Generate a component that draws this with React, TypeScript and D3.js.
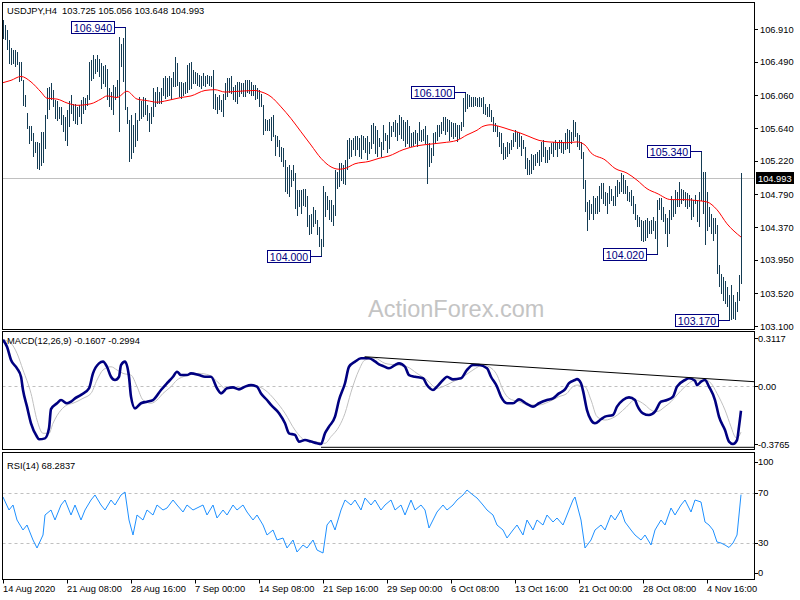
import React from 'react';
import * as d3 from 'd3';

// ---------- DATA ----------
const symbolTitle = 'USDJPY,H4';
const lastOHLC = [103.725, 105.056, 103.648, 104.993];

const highs = [
  107.03, 106.96, 106.90, 106.77, 106.66, 106.64, 106.64, 106.62, 106.49, 106.49,
  106.25, 106.06, 105.83, 105.66, 105.66, 105.57, 105.46, 105.46, 105.44, 105.59,
  105.59, 105.81, 106.15, 106.17, 106.21, 106.13, 106.00, 105.98, 105.91, 105.91,
  105.81, 105.78, 105.87, 105.98, 106.06, 105.95, 105.95, 105.91, 105.93, 106.00,
  106.04, 106.02, 106.06, 106.49, 106.51, 106.57, 106.53, 106.57, 106.53, 106.47,
  106.43, 106.45, 106.40, 106.15, 106.10, 106.19, 106.17, 106.25, 106.81, 106.72,
  106.79, 106.94, 105.91, 105.74, 105.81, 105.68, 105.83, 105.74, 106.04, 105.98,
  106.04, 106.02, 105.93, 105.83, 105.91, 106.15, 106.10, 106.17, 106.10, 106.15,
  106.28, 106.30, 106.28, 106.30, 106.28, 106.36, 106.55, 106.47, 106.23, 106.23,
  106.21, 106.23, 106.45, 106.47, 106.49, 106.38, 106.36, 106.34, 106.32, 106.30,
  106.34, 106.30, 106.32, 106.30, 106.30, 106.38, 106.08, 106.04, 106.06, 106.00,
  106.08, 106.21, 106.28, 106.28, 106.30, 106.17, 106.19, 106.23, 106.23, 106.21,
  106.21, 106.25, 106.25, 106.25, 106.23, 106.19, 106.19, 106.15, 106.13, 106.08,
  105.93, 105.76, 105.74, 105.76, 105.78, 105.81, 105.55, 105.53, 105.48, 105.40,
  105.38, 105.23, 105.14, 105.16, 105.10, 105.16, 105.06, 104.84, 104.84, 104.84,
  104.86, 104.86, 104.76, 104.52, 104.54, 104.63, 104.59, 104.46, 104.37, 104.22,
  104.89, 104.82, 104.76, 104.71, 104.71, 104.65, 105.10, 105.08, 105.19, 105.19,
  105.16, 105.23, 105.48, 105.51, 105.48, 105.51, 105.53, 105.53, 105.51, 105.55,
  105.53, 105.51, 105.53, 105.46, 105.68, 105.70, 105.66, 105.61, 105.51, 105.46,
  105.68, 105.57, 105.55, 105.72, 105.66, 105.72, 105.74, 105.70, 105.81, 105.78,
  105.74, 105.72, 105.74, 105.66, 105.57, 105.59, 105.61, 105.57, 105.72, 105.61,
  105.63, 105.66, 105.55, 105.44, 105.38, 105.57, 105.59, 105.68, 105.68, 105.72,
  105.78, 105.78, 105.76, 105.74, 105.72, 105.70, 105.70, 105.68, 105.68, 105.72,
  106.02, 106.10, 106.08, 106.06, 106.04, 106.04, 106.04, 106.02, 106.04, 106.02,
  106.04, 105.95, 105.91, 105.95, 105.87, 105.78, 105.70, 105.66, 105.59, 105.57,
  105.44, 105.40, 105.46, 105.44, 105.48, 105.57, 105.61, 105.59, 105.57, 105.53,
  105.48, 105.40, 105.25, 105.23, 105.31, 105.29, 105.31, 105.33, 105.36, 105.46,
  105.48, 105.40, 105.36, 105.40, 105.44, 105.46, 105.48, 105.46, 105.48, 105.48,
  105.46, 105.57, 105.63, 105.61, 105.59, 105.74, 105.72, 105.57, 105.55, 105.46,
  105.33, 104.97, 104.69, 104.71, 104.67, 104.76, 104.74, 104.76, 104.89, 104.93,
  104.93, 104.82, 104.80, 104.89, 104.86, 104.76, 104.89, 104.97, 104.95, 105.06,
  105.04, 104.97, 104.89, 104.82, 104.84, 104.76, 104.67, 104.52, 104.50, 104.46,
  104.44, 104.46, 104.48, 104.44, 104.46, 104.50, 104.44, 104.71, 104.74, 104.74,
  104.63, 104.54, 104.48, 104.59, 104.76, 104.71, 104.84, 104.82, 104.95, 104.86,
  104.84, 104.82, 104.80, 104.78, 104.74, 104.71, 104.78, 104.71, 104.82, 105.34,
  105.08, 105.08, 104.82, 104.63, 104.54, 104.48, 104.48, 104.39, 103.88, 103.77,
  103.73, 103.67, 103.60, 103.50, 103.62, 103.50, 103.41, 103.54, 103.75, 105.056,
];

const lows = [
  106.79, 106.77, 106.64, 106.47, 106.45, 106.47, 106.43, 106.45, 106.23, 106.25,
  105.93, 105.91, 105.63, 105.44, 105.48, 105.27, 105.33, 105.12, 105.10, 105.16,
  105.19, 105.38, 105.76, 105.87, 106.00, 105.91, 105.76, 105.74, 105.76, 105.68,
  105.59, 105.48, 105.42, 105.66, 105.83, 105.74, 105.70, 105.68, 105.78, 105.70,
  105.83, 105.87, 105.93, 106.00, 106.25, 106.28, 106.34, 106.36, 106.30, 106.15,
  106.21, 106.17, 106.00, 105.91, 105.87, 105.81, 106.00, 106.04, 105.59, 106.43,
  106.23, 105.87, 105.70, 105.21, 105.25, 105.33, 105.40, 105.48, 105.74, 105.76,
  105.78, 105.81, 105.74, 105.59, 105.70, 105.78, 105.91, 105.95, 105.95, 105.95,
  106.06, 106.02, 106.04, 106.06, 106.00, 106.17, 106.17, 106.19, 106.04, 106.02,
  106.06, 106.08, 106.10, 106.13, 106.15, 106.21, 106.21, 106.19, 106.17, 106.15,
  106.19, 106.17, 106.21, 106.19, 106.17, 105.89, 105.87, 105.83, 105.87, 105.85,
  105.78, 106.00, 106.04, 106.10, 106.08, 106.00, 105.98, 105.95, 106.04, 106.08,
  106.04, 106.04, 106.10, 106.08, 106.06, 106.06, 106.00, 106.02, 105.91, 105.91,
  105.55, 105.61, 105.61, 105.61, 105.48, 105.53, 105.29, 105.40, 105.27, 105.21,
  105.14, 104.82, 104.80, 104.76, 104.89, 104.97, 104.61, 104.52, 104.63, 104.54,
  104.65, 104.63, 104.37, 104.27, 104.29, 104.37, 104.42, 104.27, 104.12, 104.00,
  104.12, 104.50, 104.59, 104.46, 104.44, 104.39, 104.52, 104.86, 104.89, 104.97,
  104.93, 104.91, 105.10, 105.25, 105.27, 105.36, 105.29, 105.36, 105.27, 105.25,
  105.36, 105.33, 105.23, 105.31, 105.38, 105.44, 105.31, 105.27, 105.40, 105.27,
  105.36, 105.48, 105.33, 105.38, 105.53, 105.59, 105.53, 105.48, 105.55, 105.51,
  105.48, 105.40, 105.44, 105.40, 105.40, 105.42, 105.44, 105.40, 105.48, 105.46,
  105.48, 105.44, 104.93, 105.14, 105.19, 105.29, 105.44, 105.48, 105.53, 105.57,
  105.61, 105.55, 105.59, 105.48, 105.53, 105.51, 105.53, 105.46, 105.51, 105.61,
  105.66, 105.85, 105.89, 105.91, 105.91, 105.91, 105.93, 105.91, 105.91, 105.91,
  105.83, 105.81, 105.78, 105.78, 105.72, 105.59, 105.59, 105.53, 105.40, 105.31,
  105.23, 105.25, 105.27, 105.31, 105.36, 105.40, 105.46, 105.38, 105.40, 105.29,
  105.38, 105.12, 105.04, 105.04, 105.06, 105.10, 105.16, 105.19, 105.16, 105.21,
  105.27, 105.19, 105.19, 105.23, 105.31, 105.27, 105.36, 105.27, 105.38, 105.33,
  105.31, 105.36, 105.38, 105.33, 105.44, 105.48, 105.53, 105.40, 105.36, 105.25,
  104.86, 104.57, 104.33, 104.46, 104.54, 104.46, 104.54, 104.54, 104.57, 104.74,
  104.67, 104.65, 104.54, 104.67, 104.71, 104.65, 104.65, 104.76, 104.80, 104.82,
  104.80, 104.80, 104.71, 104.69, 104.65, 104.54, 104.46, 104.37, 104.37, 104.20,
  104.18, 104.20, 104.24, 104.29, 104.29, 104.33, 104.22, 104.02, 104.59, 104.46,
  104.44, 104.29, 104.12, 104.29, 104.46, 104.50, 104.54, 104.63, 104.63, 104.67,
  104.71, 104.63, 104.61, 104.63, 104.46, 104.50, 104.67, 104.44, 104.37, 104.71,
  104.54, 104.14, 104.33, 104.37, 104.29, 104.20, 104.29, 103.77, 103.60, 103.52,
  103.43, 103.39, 103.35, 103.17, 103.18, 103.20, 103.18, 103.28, 103.43, 103.648,
];

// moving average (red) read at bar positions
const maPoints: [number, number][] = [
  [0, 106.22], [4, 106.25], [9, 106.30], [14, 106.23], [19, 106.10], [22, 106.02], [27, 106.01], [32, 105.96],
  [37, 105.93], [44, 105.95], [49, 106.01], [52, 106.05], [57, 106.03], [62, 106.11], [67, 106.01], [72, 105.99],
  [77, 105.97], [82, 105.99], [89, 106.03], [94, 106.05], [101, 106.12], [106, 106.13], [111, 106.10], [118, 106.11],
  [126, 106.12], [128, 106.11], [134, 106.04], [139, 105.91], [144, 105.76], [149, 105.59], [154, 105.42], [159, 105.25],
  [164, 105.14], [168, 105.11], [171, 105.12], [176, 105.18], [183, 105.21], [188, 105.25], [193, 105.28], [200, 105.36],
  [207, 105.41], [213, 105.43], [220, 105.45], [227, 105.48], [232, 105.55], [237, 105.61], [240, 105.66], [244, 105.68],
  [248, 105.66], [253, 105.62], [258, 105.58], [263, 105.53], [268, 105.48], [273, 105.46], [282, 105.45], [287, 105.46],
  [291, 105.42], [294, 105.32], [301, 105.23], [306, 105.12], [312, 105.06], [317, 104.97], [322, 104.86], [327, 104.80],
  [334, 104.72], [341, 104.72], [346, 104.71], [352, 104.69], [357, 104.59], [362, 104.41], [369, 104.24],
];

const priceTicks = [106.91, 106.49, 106.06, 105.64, 105.22, 104.79, 104.37, 103.95, 103.52, 103.10];

const swingBars = [61, 231, 349, 159, 327, 363];
const swingPrices = [106.94, 106.10, 105.34, 104.00, 104.02, 103.17];

const xTickBars = [0, 32, 64, 96, 128, 160, 192, 224, 256, 288, 320, 352];
const xTickLabels = ['14 Aug 2020', '21 Aug 08:00', '28 Aug 16:00', '7 Sep 00:00', '14 Sep 08:00', '21 Sep 16:00',
  '29 Sep 00:00', '6 Oct 08:00', '13 Oct 16:00', '21 Oct 00:00', '28 Oct 08:00', '4 Nov 16:00'];

const macdMain: [number, number][] = [
  [0, 0.30], [2, 0.255], [4, 0.169], [7, 0.115], [9, 0.06], [10, -0.026], [12, -0.134], [14, -0.242], [17, -0.329],
  [18, -0.346], [21, -0.34], [23, -0.275], [24, -0.15], [27, -0.112], [29, -0.091], [32, -0.112], [34, -0.102],
  [36, -0.08], [39, -0.058], [43, -0.015], [45, 0.082], [48, 0.147], [50, 0.158], [52, 0.125], [54, 0.06], [56, 0.039],
  [58, 0.06], [59, 0.136], [61, 0.158], [63, 0.06], [64, -0.069], [66, -0.145], [69, -0.112], [72, -0.102], [75, -0.091],
  [79, -0.026], [82, 0.018], [85, 0.06], [87, 0.093], [89, 0.071], [92, 0.071], [94, 0.082], [98, 0.071], [101, 0.06],
  [104, 0.06], [107, -0.015], [109, -0.048], [112, -0.015], [115, -0.009], [118, -0.022], [121, -0.004], [124, 0.006],
  [127, -0.004], [129, -0.048], [132, -0.091], [134, -0.123], [138, -0.177], [141, -0.242], [143, -0.307], [146, -0.318],
  [148, -0.361], [151, -0.351], [154, -0.361], [157, -0.372], [159, -0.3765], [161, -0.307], [163, -0.264], [166, -0.199],
  [168, -0.091], [171, 0.018], [173, 0.125], [176, 0.158], [179, 0.18], [183, 0.18], [186, 0.16], [188, 0.14],
  [190, 0.13], [193, 0.115], [196, 0.136], [198, 0.147], [201, 0.125], [203, 0.071], [206, 0.06], [210, 0.05],
  [212, 0.006], [215, -0.026], [217, -0.004], [220, 0.039], [222, 0.06], [225, 0.043], [229, 0.05], [232, 0.104],
  [235, 0.136], [238, 0.136], [242, 0.115], [244, 0.06], [247, -0.004], [249, -0.069], [252, -0.112], [255, -0.112],
  [258, -0.087], [262, -0.117], [265, -0.134], [268, -0.112], [272, -0.091], [275, -0.08], [278, -0.048], [281, -0.022],
  [283, 0.018], [286, 0.039], [287, 0.045], [289, 0.018], [290, -0.03], [292, -0.156], [294, -0.221], [296, -0.242],
  [299, -0.216], [301, -0.199], [305, -0.188], [307, -0.134], [310, -0.091], [313, -0.074], [316, -0.091], [317, -0.123],
  [320, -0.177], [323, -0.188], [326, -0.166], [329, -0.102], [332, -0.091], [335, -0.069], [337, -0.004], [341, 0.039],
  [343, 0.05], [346, 0.034], [347, 0.006], [349, 0.028], [351, 0.039], [353, -0.004], [356, -0.091], [358, -0.199],
  [361, -0.286], [363, -0.361], [365, -0.3765], [367, -0.351], [368, -0.264], [369, -0.1607],
];

const macdSignal: [number, number][] = [
  [0, 0.30], [4, 0.277], [7, 0.212], [10, 0.104], [14, -0.048], [17, -0.221], [20, -0.307], [23, -0.307], [25, -0.242],
  [29, -0.156], [32, -0.123], [35, -0.112], [40, -0.08], [44, -0.048], [47, 0.039], [50, 0.104], [54, 0.125], [57, 0.104],
  [60, 0.082], [64, 0.071], [67, -0.004], [70, -0.091], [74, -0.112], [77, -0.091], [80, -0.048], [84, -0.004], [87, 0.039],
  [90, 0.06], [94, 0.075], [98, 0.082], [103, 0.071], [108, 0.018], [111, -0.015], [116, -0.015], [121, -0.004], [126, 0],
  [131, -0.026], [136, -0.091], [141, -0.177], [146, -0.286], [151, -0.351], [156, -0.361], [161, -0.372], [164, -0.329],
  [168, -0.264], [171, -0.177], [174, -0.04], [178, 0.104], [181, 0.169], [186, 0.18], [191, 0.147], [197, 0.136],
  [202, 0.125], [207, 0.082], [212, 0.039], [217, -0.015], [220, -0.004], [225, 0.028], [230, 0.06], [235, 0.104],
  [240, 0.136], [243, 0.125], [247, 0.071], [250, -0.026], [253, -0.08], [258, -0.102], [263, -0.123], [268, -0.123],
  [273, -0.102], [278, -0.069], [282, -0.048], [284, -0.015], [287, 0.006], [291, -0.004], [294, -0.091], [297, -0.199],
  [301, -0.221], [306, -0.199], [311, -0.145], [316, -0.091], [321, -0.123], [324, -0.156], [327, -0.166], [331, -0.134],
  [334, -0.102], [337, -0.058], [341, -0.004], [344, 0.028], [347, 0.039], [351, 0.039], [354, 0.018], [357, -0.048],
  [361, -0.156], [364, -0.264], [366, -0.33], [367, -0.338], [369, -0.2994],
];

const macdTicks = [0.3117, 0, -0.3765];
const macdTickLabels = ['0.3117', '0.00', '-0.3765'];
const macdTrendA: [number, number][] = [[180.8, 0.19], [375.5, 0.028]];
const macdTrendB: [number, number][] = [[159, -0.398], [375.5, -0.398]];

const rsiPoints: [number, number][] = [
  [0, 66.4], [3, 56], [5, 60], [7, 48], [10, 40], [12, 44], [15, 32], [17, 25.6], [20, 36], [21, 52], [24, 56], [26, 48],
  [29, 60], [31, 64], [34, 52], [36, 60], [39, 48], [41, 56], [44, 64], [46, 68], [49, 60], [51, 56], [54, 64], [56, 60],
  [59, 68], [61, 70.4], [63, 48], [65, 36], [67, 52], [70, 48], [72, 56], [75, 52], [77, 60], [80, 56], [82, 57.6],
  [85, 64], [87, 60], [90, 54.4], [92, 60], [95, 56], [97, 57.6], [100, 60], [102, 52], [105, 60], [107, 49.6], [110, 56],
  [112, 52], [115, 60], [117, 56], [120, 60], [122, 54.4], [125, 48], [127, 52], [130, 44], [132, 36], [135, 40],
  [137, 32], [140, 33.6], [142, 25.6], [145, 32], [147, 22.4], [150, 28], [152, 25.6], [155, 32], [157, 24], [160, 21.6],
  [162, 44], [164, 48], [166, 40], [169, 56], [171, 64], [174, 60], [176, 64], [179, 56], [181, 65.6], [184, 60],
  [186, 64], [189, 56], [191, 60], [194, 64], [196, 56], [199, 60], [201, 52], [204, 64], [206, 56], [209, 60], [211, 56],
  [213, 41.6], [215, 48], [217, 54.4], [220, 60], [222, 56], [225, 60], [227, 64], [230, 68], [232, 72], [235, 68],
  [237, 65.6], [240, 60], [242, 56], [245, 52], [247, 44], [250, 40], [252, 33.6], [255, 40], [257, 44], [260, 36],
  [262, 48], [265, 40], [267, 48], [270, 44], [272, 52], [275, 46.4], [277, 49.6], [280, 44], [282, 52], [285, 64],
  [286, 66.4], [289, 48], [291, 25.6], [294, 32], [296, 40], [299, 44], [301, 40], [304, 52], [306, 48], [309, 56],
  [311, 46.4], [314, 40], [316, 36], [319, 32], [321, 36], [324, 28], [326, 40], [329, 48], [331, 44], [334, 57.6],
  [336, 52], [339, 60], [341, 64], [344, 54.4], [346, 64], [349, 62.4], [351, 46.4], [353, 44], [355, 40], [357, 30.4],
  [359, 29.6], [361, 28], [363, 26], [365, 29.6], [367, 36], [368, 52], [369, 68.2837],
];
const rsiTicks = [100, 70, 30, 0];

// ---------- LAYOUT ----------
const FONT = '"Liberation Sans", Arial, sans-serif';
const LEFT = 2.5, RIGHT = 754.5;
const MAIN_TOP = 2.5, MAIN_BOT = 329.5;
const MACD_TOP = 331.5, MACD_BOT = 449.5;
const RSI_TOP = 452.5, RSI_BOT = 579.5;

export default function App() {
  const n = highs.length;
  const x = d3.scaleLinear().domain([0, n - 1]).range([3, 741]);
  const yP = d3.scaleLinear().domain([103.1, 106.91]).range([325.9, 28.9]);
  const yM = d3.scaleLinear().domain([-0.3765, 0.3117]).range([444, 338]);
  const yR = d3.scaleLinear().domain([0, 100]).range([580, 455]);
  const px = (i: number) => Math.round(x(i)) + 0.5;

  const maLine = d3.line<[number, number]>().x(d => x(d[0])).y(d => yP(d[1])).curve(d3.curveMonotoneX);
  const macdLine = d3.line<[number, number]>().x(d => x(d[0])).y(d => yM(d[1])).curve(d3.curveMonotoneX);
  const trendLine = d3.line<[number, number]>().x(d => x(d[0])).y(d => yM(d[1]));
  const rsiLine = d3.line<[number, number]>().x(d => x(d[0])).y(d => yR(d[1]));

  const close = lastOHLC[3];
  const yClose = Math.round(yP(close)) + 0.5;
  const header = `${symbolTitle}  ${lastOHLC.map(v => v.toFixed(3)).join(' ')}`;
  const macdHeader = `MACD(12,26,9) ${macdMain[macdMain.length - 1][1].toFixed(4)} ${macdSignal[macdSignal.length - 1][1].toFixed(4)}`;
  const rsiHeader = `RSI(14) ${rsiPoints[rsiPoints.length - 1][1].toFixed(4)}`;

  const rsiLabelY = (v: number) => Math.max(RSI_TOP + 9, Math.min(RSI_BOT - 7, yR(v)));

  return (
    <svg width={800} height={600} style={{ position: 'absolute', left: 0, top: 0, background: '#fff' }}
      fontFamily={FONT}>
      <defs>
        <clipPath id="cMain"><rect x={LEFT} y={MAIN_TOP} width={RIGHT - LEFT} height={MAIN_BOT - MAIN_TOP} /></clipPath>
        <clipPath id="cMacd"><rect x={LEFT} y={MACD_TOP} width={RIGHT - LEFT} height={MACD_BOT - MACD_TOP} /></clipPath>
        <clipPath id="cRsi"><rect x={LEFT} y={RSI_TOP} width={RIGHT - LEFT} height={RSI_BOT - RSI_TOP} /></clipPath>
      </defs>
      <rect x={0} y={0} width={800} height={600} fill="#fff" />

      {/* ---- main panel ---- */}
      <g clipPath="url(#cMain)">
        <line x1={LEFT} x2={RIGHT} y1={yClose} y2={yClose} stroke="#c0c0c0" />
        <text x={368} y={317} fontSize={23.5} fill="#c4c4c4">ActionForex.com</text>
        <g stroke="#143c54" strokeWidth={1} shapeRendering="crispEdges">
          {highs.map((h, i) => (
            <line key={i} x1={px(i)} x2={px(i)} y1={yP(h)} y2={yP(lows[i]) + 0.5} />
          ))}
        </g>
        <path d={maLine(maPoints) || ''} fill="none" stroke="#ff0000" strokeWidth={1} />
        {swingBars.map((b, k) => {
          const p = swingPrices[k];
          const yy = Math.round(yP(p)) + 0.5;
          const bx = Math.round(x(b)) - 10.5;
          const w = 43;
          return (
            <g key={k}>
              <line x1={bx} x2={px(b)} y1={yy} y2={yy} stroke="#000080" shapeRendering="crispEdges" />
              <rect x={bx - w} y={yy - 6} width={w} height={12} fill="#fff" stroke="#000080" shapeRendering="crispEdges" />
              <text x={bx - w / 2} y={yy + 4} fontSize={10.6} fill="#000080" textAnchor="middle">{p.toFixed(3)}</text>
            </g>
          );
        })}
        <text x={7} y={14} fontSize={9.3} fill="#000" style={{ whiteSpace: 'pre' }}>{header}</text>
      </g>

      {/* ---- MACD panel ---- */}
      <g clipPath="url(#cMacd)">
        <line x1={LEFT} x2={RIGHT} y1={Math.round(yM(0)) + 0.5} y2={Math.round(yM(0)) + 0.5} stroke="#c0c0c0" strokeDasharray="3,3" />
        <path d={macdLine(macdSignal) || ''} fill="none" stroke="#c0c0c0" strokeWidth={1} />
        <path d={macdLine(macdMain) || ''} fill="none" stroke="#000080" strokeWidth={2.6} strokeLinejoin="round" />
        <path d={trendLine(macdTrendA) || ''} fill="none" stroke="#000" strokeWidth={1} />
        <path d={trendLine(macdTrendB) || ''} fill="none" stroke="#000" strokeWidth={1} />
        <text x={7} y={343.5} fontSize={9.3} fill="#000">{macdHeader}</text>
      </g>

      {/* ---- RSI panel ---- */}
      <g clipPath="url(#cRsi)">
        {[70, 30].map(v => (
          <line key={v} x1={LEFT} x2={RIGHT} y1={Math.round(yR(v)) + 0.5} y2={Math.round(yR(v)) + 0.5} stroke="#c0c0c0" strokeDasharray="3,3" />
        ))}
        <path d={rsiLine(rsiPoints) || ''} fill="none" stroke="#1e90ff" strokeWidth={1} />
        <text x={7} y={469} fontSize={9.3} fill="#000">{rsiHeader}</text>
      </g>

      {/* ---- frames ---- */}
      <g fill="none" stroke="#000" shapeRendering="crispEdges">
        <rect x={LEFT} y={MAIN_TOP} width={RIGHT - LEFT} height={MAIN_BOT - MAIN_TOP} />
        <rect x={LEFT} y={MACD_TOP} width={RIGHT - LEFT} height={MACD_BOT - MACD_TOP} />
        <rect x={LEFT} y={RSI_TOP} width={RIGHT - LEFT} height={RSI_BOT - RSI_TOP} />
      </g>

      {/* ---- right axes ---- */}
      <g fontSize={9.3} fill="#000">
        {priceTicks.map(v => (
          <g key={v}>
            <line x1={RIGHT} x2={RIGHT + 3.5} y1={Math.round(yP(v)) + 0.5} y2={Math.round(yP(v)) + 0.5} stroke="#000" />
            <text x={760} y={yP(v) + 3.6}>{v.toFixed(3)}</text>
          </g>
        ))}
        {macdTicks.map((v, k) => (
          <g key={v}>
            <line x1={RIGHT} x2={RIGHT + 3.5} y1={Math.round(yM(v)) + 0.5} y2={Math.round(yM(v)) + 0.5} stroke="#000" />
            <text x={758} y={yM(v) + 3.6}>{macdTickLabels[k]}</text>
          </g>
        ))}
        {rsiTicks.map(v => (
          <g key={v}>
            <line x1={RIGHT} x2={RIGHT + 3.5} y1={Math.round(rsiLabelY(v)) + 0.5} y2={Math.round(rsiLabelY(v)) + 0.5} stroke="#000" />
            <text x={758} y={rsiLabelY(v) + 3.6}>{v}</text>
          </g>
        ))}
      </g>
      <rect x={756} y={yClose - 6.5} width={38} height={12} fill="#000" />
      <text x={758} y={yClose + 3.5} fontSize={9.3} fill="#fff">{close.toFixed(3)}</text>

      {/* ---- x axis ---- */}
      <g fontSize={9.3} fill="#000">
        {xTickBars.map((b, k) => (
          <g key={b}>
            <line x1={px(b)} x2={px(b)} y1={RSI_BOT} y2={RSI_BOT + 4} stroke="#000" />
            <text x={x(b)} y={592}>{xTickLabels[k]}</text>
          </g>
        ))}
      </g>
    </svg>
  );
}
